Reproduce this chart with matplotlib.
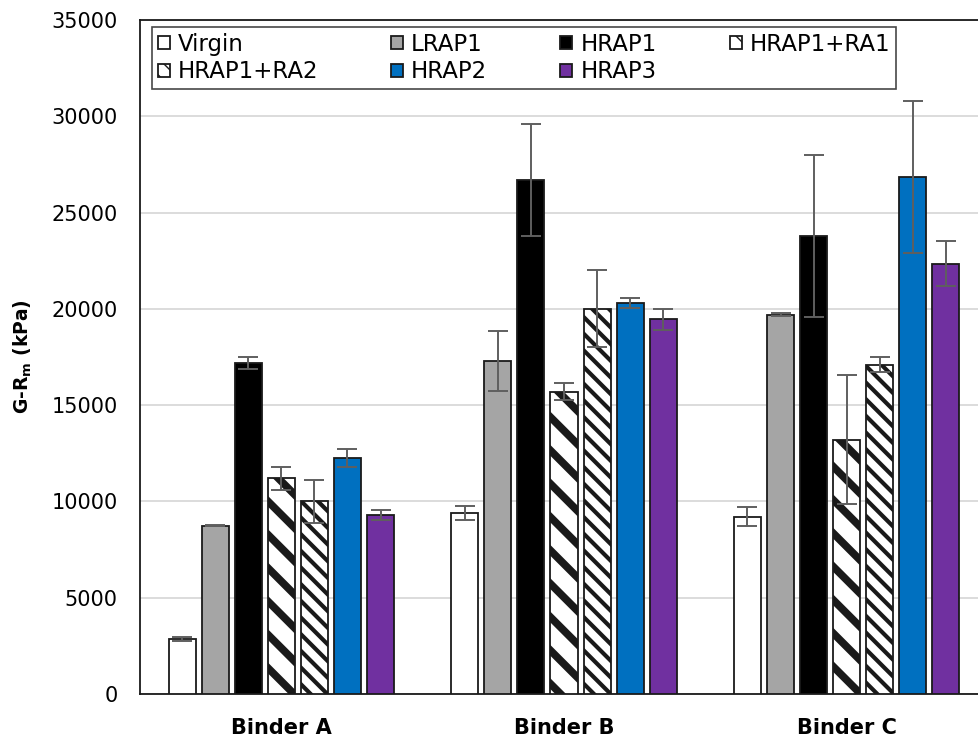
import numpy as np
import matplotlib.pyplot as plt

binders = ['Binder A', 'Binder B', 'Binder C']
series = ['Virgin', 'LRAP1', 'HRAP1', 'HRAP1+RA1', 'HRAP1+RA2', 'HRAP2', 'HRAP3']

# mean values per series (Binder A, B, C)
virgin = [2850, 9400, 9200]
lrap1 = [8750, 17300, 19700]
hrap1 = [17200, 26700, 23800]
hrap1_ra1 = [11200, 15700, 13200]
hrap1_ra2 = [10000, 20000, 17100]
hrap2 = [12250, 20300, 26850]
hrap3 = [9300, 19450, 22350]

# error bar half widths
virgin_err = [120, 350, 500]
lrap1_err = [30, 1550, 60]
hrap1_err = [300, 2900, 4200]
hrap1_ra1_err = [600, 450, 3350]
hrap1_ra2_err = [1100, 2000, 400]
hrap2_err = [450, 250, 3950]
hrap3_err = [250, 550, 1150]

values = [virgin, lrap1, hrap1, hrap1_ra1, hrap1_ra2, hrap2, hrap3]
errors = [virgin_err, lrap1_err, hrap1_err, hrap1_ra1_err, hrap1_ra2_err, hrap2_err, hrap3_err]

colors = ['white', '#a5a5a5', 'black', 'white', 'white', '#0070c0', '#7030a0']
hatches = [None, None, None, '\\', '\\\\', None, None]
hatch_lw = [1, 1, 1, 5.5, 3.0, 1, 1]

fig = plt.figure(figsize=(9.79, 7.39), dpi=100)
ax = fig.add_axes([140/979, 45/739, 848/979, 674/739])

x = np.arange(len(binders))
pitch = 0.117
width = 0.096
handles = []
for i, (name, vals, errs) in enumerate(zip(series, values, errors)):
    with plt.rc_context({'hatch.linewidth': hatch_lw[i], 'hatch.color': 'black'}):
        b = ax.bar(x + (i - 3) * pitch, vals, width, color=colors[i],
                   edgecolor='#1a1a1a', linewidth=1.3, hatch=hatches[i],
                   label=name, zorder=3)
    ax.errorbar(x + (i - 3) * pitch, vals, yerr=errs, fmt='none',
                ecolor='#5f5f5f', elinewidth=1.4, capsize=7, capthick=1.4, zorder=4)
    handles.append(b)

ax.set_xlim(-0.5, 2.5)
ax.set_ylim(0, 35000)
ax.set_yticks(np.arange(0, 35001, 5000))
ax.set_xticks(x)
ax.set_xticklabels(binders, fontsize=15, fontweight='bold')
ax.tick_params(axis='y', length=0, pad=16, labelsize=15)
ax.tick_params(axis='x', length=0, pad=17)
ax.yaxis.grid(True, color='#d9d9d9', linewidth=1.3, zorder=0)
ax.set_axisbelow(True)
for s in ['left', 'top', 'bottom', 'right']:
    ax.spines[s].set_color('#1a1a1a')
    ax.spines[s].set_linewidth(1.3)

ax.set_ylabel(r'G-R$_\mathbf{m}$ (kPa)', fontsize=13.5, fontweight='bold')
ax.yaxis.set_label_coords(-0.125, 0.5)

order = [0, 4, 1, 5, 2, 6, 3]
leg = ax.legend([handles[k] for k in order], [series[k] for k in order],
                ncol=4, loc='upper left', mode='expand',
                bbox_to_anchor=(0.014, 0.902, 0.8775, 0.0876),
                fontsize=16.5, frameon=True, fancybox=False, edgecolor='#1a1a1a',
                handlelength=0.52, handleheight=0.52, handletextpad=0.35,
                borderpad=0.25, labelspacing=0.2, borderaxespad=0)
leg.get_frame().set_linewidth(1.2)

fig.savefig('out.png', dpi=100)
